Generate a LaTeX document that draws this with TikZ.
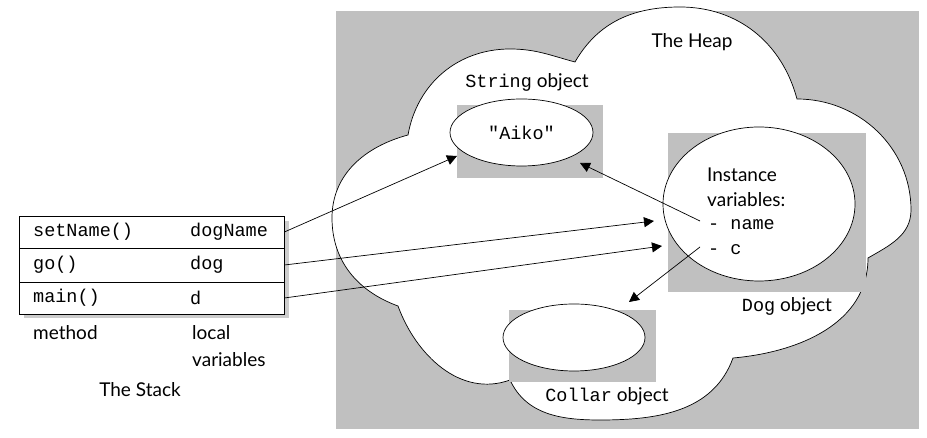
\documentclass[tikz,border=0pt]{standalone}
\usepackage{fontspec}
\setmainfont{Lato}
\setmonofont{Liberation Mono}
\usetikzlibrary{arrows.meta,shapes.geometric}
\definecolor{heapgray}{RGB}{192,192,192}
\definecolor{shadowgray}{RGB}{204,204,204}

\begin{document}
\begin{tikzpicture}[x=1pt,y=1pt,
    every node/.style={font=\fontsize{19}{23}\selectfont},
    code/.style={font=\ttfamily\fontsize{18.5}{22}\selectfont,anchor=west,inner sep=0pt},
    stackrow/.style={draw,fill=white,minimum width=265pt,inner sep=0pt,line width=0.8pt},
    objbox/.style={fill=heapgray,inner sep=0pt},
    obj/.style={draw,ellipse,fill=white,inner sep=0pt,line width=0.7pt},
    ref/.style={-{Triangle[length=10pt,width=10pt]},line width=0.7pt}]
  \useasboundingbox (0,0) rectangle (927,438);

  %%%%% STACK %%%%%
  \fill[shadowgray] (24,120) rectangle (289,217);
  \node[stackrow,minimum height=32pt] (row1) at (151.5,206) {};
  \node[stackrow,minimum height=34pt] (row2) at (151.5,173) {};
  \node[stackrow,minimum height=32pt] (row3) at (151.5,140) {};

  \node[code] (m1) at (33,206) {setName()};
  \node[code] (v1) at (190,206) {dogName};
  \node[code] (m2) at (33,173) {go()};
  \node[code] (v2) at (190,173) {dog};
  \node[code] (m3) at (33,140) {main()};
  \node[code] (v3) at (190,140) {d};

  \node[anchor=west,inner sep=0pt] (method) at (33,105) {method};
  \node[anchor=west,inner sep=0pt] (local) at (192,105) {local};
  \node[anchor=west,inner sep=0pt] (locvars) at (192,78) {variables};
  \node (stack) at (140,48) {The Stack};

  %%%%% HEAP %%%%%
  \fill[heapgray] (336,9) rectangle (919,427);
  \draw[fill=white,line width=0.7pt] (398,132) to[out=160,in=-90] (332,220)
    to[out=90,in=195] (408,303) to[out=80,in=180] (510,389)
    to[out=0,in=165] (575,376) to[out=60,in=180] (680,431)
    to[out=0,in=105] (797,339) to[out=0,in=90] (911,228)
    to[out=-90,in=30] (868,180) to[out=-90,in=5] (733,80)
    to[out=-110,in=0] (600,18) to[out=180,in=-65] (510,58)
    to[out=200,in=-70] (398,132) -- cycle;

  \node (heap) at (692,396) {The Heap};

  \node[objbox,minimum width=146pt,minimum height=73pt] (strbox) at (530,296.5) {};
  \node[obj,minimum width=143pt,minimum height=67pt] (aiko) at (521.5,305.5) {\ttfamily\fontsize{18.5}{22}\selectfont "Aiko"};
  \node (strlabel) at (527,356) {{\ttfamily\fontsize{18.5}{22}\selectfont String} object};

  \node[objbox,minimum width=198pt,minimum height=159pt] (dogbox) at (767,225.5) {};
  \node[obj,minimum width=192pt,minimum height=154pt] (dog) at (759,234) {};
  \node[anchor=west,inner sep=0pt] (inst) at (707,263) {Instance};
  \node[anchor=west,inner sep=0pt] (instvars) at (707,238) {variables:};
  \node[code] (fname) at (708,213) {- name};
  \node[code] (fc) at (708,188) {- c};
  \node (doglabel) at (787,132) {{\ttfamily\fontsize{18.5}{22}\selectfont Dog} object};

  \node[objbox,minimum width=147pt,minimum height=72pt] (colbox) at (582.5,92) {};
  \node[obj,minimum width=142pt,minimum height=67pt] (collar) at (574,100.5) {};
  \node (collabel) at (607,42) {{\ttfamily\fontsize{18.5}{22}\selectfont Collar} object};

  %%%%% REFERENCES %%%%%
  \coordinate (tip1) at (457,282);
  \coordinate (tip2) at (654,217);
  \coordinate (tip3) at (662,192);
  \coordinate (tip4) at (580,275);
  \coordinate (tip5) at (629,136);

  \draw[ref] (row1.east) -- (tip1);
  \draw[ref] (row2.east) -- (tip2);
  \draw[ref] (row3.east) -- (tip3);
  \draw[ref] ([xshift=-8pt,yshift=4pt]fname.west) -- (tip4);
  \draw[ref] ([xshift=-8pt,yshift=3pt]fc.west) -- (tip5);
\end{tikzpicture}
\end{document}
